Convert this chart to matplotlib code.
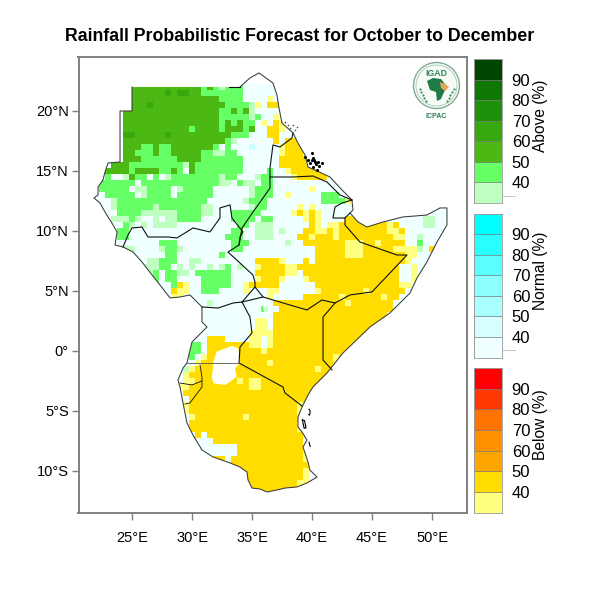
import matplotlib
matplotlib.use('Agg')
import matplotlib.pyplot as plt
import numpy as np
from matplotlib.colors import ListedColormap
from matplotlib.patches import Circle, PathPatch, Polygon
from matplotlib.path import Path

plt.rcParams['font.family'] = ['Liberation Sans', 'DejaVu Sans']

# forecast cells, 0.5 deg, north to south from 22N, west to east from 21.5E
# . normal<40  N normal 50  a/b/c/d above 40/50/60/70  y/z below 40/50
rows = [
    ".......ccc cccccccccb cbabbb....",
    ".......ccc cccdcddccb bbbbbb....",
    ".......ccc cccccccccc ccbbbb.... y.........",
    ".......ccc dccccccccc cccbbbbay. zz........",
    "......cccc cccccccccc ccbbcbca.. ..........",
    "......cccc cccccccccc ccbbbbbab. .y........",
    "......cccc cccccccccc ccbcbcbb.y .zy.......",
    "......cccc cccccccbcc ccbcccbc.. zzy.......",
    "......ddcc cccdcccccc ccccbbb... zz........",
    "......cccc cccccccccc cccba..... .z.zz.....",
    "......cccb bcbbcccccc cb.b...N.. ..yzzz....",
    "......ccbb bcbbcccccb baabb..... ..yzzz....",
    "......cccb bbbbbccccb bbbbbb.... ..zzzzz...",
    "....cccbbb bbbbbbacbb bbbbbb.... ..zzzzzzz.",
    "...ccccbcc ccbbcb.cbb bbbbbb.... b..yzzzzzy",
    "...b..acbb .b.abbbbbb bbabb...ab b...yzzzzz",
    "..bbbbbb.b bbbbbbbbbb bbaa.baa.b b.........",
    "..bbbbb.aa bbbb.abbbb b......abb b......y..",
    "...bbbbb.a bbbb.bbbbb b......abb b..y.....b bb........",
    "....abbbbb bbbbbbbbbb ......abbb .........b bbby......",
    "....abbbbb babbbbbbba a......abb .....y.y.. ..........",
    ".....bbbba aaaaabbbba a...bbbbb. ....yzyzy. ..........",
    "....aaaba. .a.aabbbb. ....bbbb.b b.....yzy. ...zz..... ......aa..",
    "......ba.a .aaaa..... .....bb.aa a......zy. yyzzzzzzzz yz....aa..",
    ".....bb... .......... ....bb..aa a.a...zzyy zyzzzzzzzz yyz.......",
    ".....bb... .......... ...bbb..aa a....zzyzz zyzzzzzzzz zyy..a....",
    ".......... ..bbb..... ....bbb... ...a..zzzz zzzyyyzzyz zzz..b....",
    "......aa.. ..abba.... ....bb.... ........zz zzzyyyzzzz zyyyya.z..",
    ".......... ...bb..... ..b....... ........zz zzzyyyzzzz zzzyy.....",
    ".......... aabbb..aa. ........zz zzy...z.zz zzzzzzzzzz zzzy......",
    ".........a aabb.a.a.. a.ab.a..yz zzzyyzzzzz zzzzzzzzzz zz..y.....",
    ".......... ab.bbaa.bb bbbb....zz zzzyy.zzzz zzzzzzzzzz zz..y.....",
    ".......... .b.bb....b bbbb....yz zzy...yzzz zzzzzzzzzz zz..y.....",
    ".......... ....bzy..b bbbb..yzzz zz......zz zzzzzzzzzz zzyy......",
    ".......... ....zyy..b bb....y... yy......yz zzzzzzyzzz zzz.......",
    ".......... ....yy.... .......... y.....zzzz zzyzzzzzzy zz........",
    ".......... .......... a......... .zzzzzzzzz zzzyzzzzzz z.........",
    ".......... .......... .........b ..zzzzzzzz zzzzzzzzzz z.........",
    ".......... .......... .......... .zzzzzzzzz zzzzzzzzzz ..........",
    ".......... .......... ........yy .zzzzzzzzz zzzzzzzzzz ..........",
    ".......... .......... ........yy .zzzzzzzzz zzzzzzzzzz ..........",
    ".......... .......... .......yyy yzzzzzzzzz zzzzzzzzzz ..........",
    ".......... .......... zzz....yy. yzzzzzzzzz zzzzzzzzzz ..........",
    ".......... .......bb. zzzzzzzyy. yzzzzzzzzz zzzzzzzzzz ..........",
    ".......... .......bb. zzzzzzzzzy zzzzzzzzzz zzzzzzzzzz ..........",
    ".......... .......b.y zzzzzzzzzz zzzzzzzzzz zyzzzzz... ..........",
    ".......... ........yz zzzzzzzzzz yzzzzzzzzz zyzzzz.... ..........",
    ".......... ......ayzz zzzzzzzzzz zzzzzzzzyz zz........ ..........",
    ".......... ......yzzz zzzzzzzzzz zzzzzzzzzz zz........ ..........",
    ".......... ......yyzz zzzzzyzyyz zzzzzzzzzz z......... ..........",
    ".......... .....yyzzz zzzzzzzyyz zzzzzzzzzz .......... ..........",
    ".......... ......zzzz zzzzzzzzzz zzzzzzzzzz .......... ..........",
    ".......... .......zzz zzzzzzzzzz zzzzzzzzzz .......... ..........",
    ".......... ......yzzz zzzzzzzzzz zzzzzyzzzz .......... ..........",
    ".......... ......yzzz zzzzzzzzzz zzzzzyzzzz .......... ..........",
    ".......... .......yzz zzzzzzyzzz zzzzzy.... .......... ..........",
    ".......... .......zzz zzzzzzzzzz zzzzzy.... .......... ..........",
    ".......... .......zzz zzzzzzzzzz zzzzzy.... .......... ..........",
    ".......... ........z. zzzzzzzzzz zzzzzz.... .......... ..........",
    ".......... .......... .zzzzzzzzz zzzzzz.... .......... ..........",
    ".......... .......... .....zzzzz zzzzzz.... .......... ..........",
    ".......... .......... .....zzzzz zzzzzzy... .......... ..........",
    ".......... .......... .zz.zzzzzz zzzzzzy... .......... ..........",
    ".......... .......... zzzzzzzzzz zzzzzzz... .......... ..........",
    ".......... .......... zzzzzzzzzz zzzzzzy... .......... ..........",
    ".......... .......... zzzzzzzzzz zzzzzzy... .......... ..........",
    ".......... .......... zzzzzzzzzz zzzzzyy... .......... ..........",
    ".......... .......... zzzzzzzzzz zzzzzzzz.. .......... ..........",
    ".......... .......... zzzzzzzzzz zzzzzzzz.. .......... ..........",
]
cell_codes = ".Nabcdyz"
cell_colors = ["#F0FFFF", "#CCFFFF", "#BFFFBF", "#66FF66", "#4CB814", "#38A80F", "#FFFF80", "#FFDD00"]

# region outline
outline_lon = [25.0, 25.0, 24.0, 24.0, 23.0, 22.75, 22.58, 22.17, 22.17, 21.83, 22.33, 22.75, 23.42, 23.75,
               23.58, 24.25, 25.08, 25.83, 26.67, 27.33, 28.17, 29.0, 29.83, 30.83, 30.83, 31.25, 30.0, 29.58,
               29.25, 28.83, 29.0, 29.25, 29.58, 30.08, 30.83, 31.75, 33.17, 34.0, 34.58, 34.67, 35.0, 35.67,
               36.25, 37.08, 37.75, 38.75, 39.58, 40.42, 39.83, 39.67, 39.25, 39.58, 39.17, 38.83, 38.83, 39.17,
               39.67, 40.08, 41.25, 42.58, 44.83, 46.5, 48.17, 48.75, 49.58, 50.42, 51.25, 51.25, 50.67, 49.58,
               47.58, 45.92, 44.58, 43.83, 43.17, 43.42, 43.33, 42.5, 41.5, 40.25, 39.67, 39.42, 38.83, 38.42,
               37.5, 37.25, 37.08, 36.75, 35.58, 34.83, 34.0]
outline_lat = [22.0, 20.0, 20.0, 15.75, 15.67, 14.92, 14.25, 13.67, 13.0, 12.75, 12.33, 11.58, 10.5, 9.92,
               8.83, 8.67, 8.25, 7.42, 6.33, 5.5, 4.42, 4.5, 4.67, 3.67, 2.42, 2.0, 0.75, -1.0,
               -1.42, -2.42, -3.0, -4.33, -6.0, -7.0, -8.25, -8.83, -9.33, -9.67, -10.08, -10.75, -11.42, -11.5,
               -11.75, -11.58, -11.42, -11.33, -11.0, -10.5, -9.92, -9.25, -8.0, -7.42, -6.75, -6.33, -5.5, -4.67,
               -3.67, -3.0, -1.83, -0.17, 2.0, 3.17, 4.83, 6.08, 7.42, 9.08, 10.5, 11.92, 11.92, 11.33,
               11.17, 10.75, 10.33, 10.75, 11.5, 11.75, 12.58, 13.42, 14.5, 15.08, 15.33, 16.33, 17.33, 18.17,
               19.0, 20.25, 21.33, 22.33, 23.17, 22.75, 22.0]

# country borders as (lon, lat) lists
borders = [
    ([24.25, 24.67, 25.0, 25.83, 26.33, 28.0, 28.75, 30.08, 31.5, 32.33, 32.33, 33.17, 33.33, 34.25, 34.0, 33.92,
      33.0, 34.0, 35.08, 35.25, 35.25, 34.17],
     [8.67, 9.67, 10.25, 10.33, 9.5, 9.5, 9.42, 10.25, 9.92, 11.08, 11.92, 12.17, 11.08, 9.92, 9.5, 8.83,
      8.25, 7.33, 6.33, 5.75, 5.33, 4.08]),
    ([33.92, 34.17, 35.08, 35.92, 36.5, 36.5, 36.75, 37.33, 38.33, 38.42],
     [8.83, 10.25, 11.58, 12.75, 13.58, 15.25, 17.17, 17.0, 17.75, 18.17]),
    ([36.5, 37.33, 38.42, 40.08, 41.25, 42.33, 43.33],
     [14.5, 14.5, 14.5, 14.58, 14.08, 13.0, 12.58]),
    ([43.33, 42.5, 41.92, 41.75, 42.75, 43.17],
     [12.58, 12.33, 12.0, 11.08, 11.08, 11.5]),
    ([42.75, 42.75, 44.0, 47.08, 47.92, 45.0, 43.17, 41.92, 40.83, 39.58, 38.17, 35.92, 34.17],
     [11.08, 10.5, 9.08, 8.0, 8.0, 4.92, 4.67, 4.0, 4.25, 3.42, 3.83, 4.5, 4.08]),
    ([41.92, 40.92, 40.92, 41.67], [4.0, 2.83, -0.75, -1.58]),
    ([35.25, 35.92], [5.33, 4.5]),
    ([30.83, 32.17, 33.42, 34.17, 34.83, 35.0, 34.0, 33.92, 37.58, 37.75, 39.17],
     [3.67, 3.58, 4.0, 4.08, 2.83, 1.5, 0.33, -1.0, -3.0, -3.5, -4.58]),
    ([34.0, 33.1], [22.0, 22.0]),
]
# thin gray lines around Rwanda, Burundi and the Uganda-Tanzania line
minor_borders = [
    ([29.58, 33.92], [-1.0, -1.0]),
]
small_borders = [
    ([30.67, 30.83, 30.83, 29.83, 29.42], [-1.17, -2.17, -3.0, -4.33, -4.42]),
    ([29.0, 30.0, 30.83], [-2.67, -2.83, -2.5]),
]

lake_lon = [31.72, 31.78, 32.06, 32.75, 33.31, 33.86, 34.0, 33.58, 33.72, 33.17, 32.75, 31.78, 31.64]
lake_lat = [-1.72, -0.89, -0.06, 0.22, 0.42, 0.22, -0.97, -1.44, -2.14, -2.56, -2.83, -2.69, -2.14]
turkana_lon = [36.0, 36.25, 36.4, 36.15, 35.95]
turkana_lat = [4.5, 3.9, 2.55, 2.7, 3.6]

dahlak_lon = [39.42, 39.69, 39.97, 40.11, 40.25, 40.53, 40.81, 39.83, 40.11, 40.39, 40.0, 40.3, 40.6, 40.2]
dahlak_lat = [16.19, 15.92, 16.47, 16.06, 15.78, 15.78, 15.64, 15.64, 15.36, 15.08, 15.9, 15.55, 15.4, 15.95]
suakin_lon = [37.75, 38.03, 38.44, 38.72, 38.17, 38.58]
suakin_lat = [19.11, 18.83, 18.83, 18.69, 18.56, 18.42]
islands = [
    ([39.75, 39.85, 39.8, 39.72], [-4.85, -5.0, -5.35, -5.3]),
    ([39.2, 39.38, 39.5, 39.35, 39.2], [-5.75, -5.8, -6.4, -6.45, -5.75]),
    ([39.75, 39.85], [-7.6, -7.95]),
]

lon_ticks = [25, 30, 35, 40, 45, 50]
lat_ticks = [-10, -5, 0, 5, 10, 15, 20]

legend_labels = [40, 50, 60, 70, 80, 90]
above_colors = ["#BFFFBF", "#66FF66", "#4CB814", "#38A80F", "#1E910A", "#0F7805", "#004600"]
normal_colors = ["#F0FFFF", "#D7FFFF", "#AAFFFF", "#8CFFFF", "#5AFFFF", "#28FFFF", "#00FFFF"]
below_colors = ["#FFFF80", "#FFDD00", "#FFA500", "#FF9100", "#FF7300", "#FF3700", "#FF0000"]
legend_titles = ["Above (%)", "Normal (%)", "Below (%)"]


def px_axes(fig, left, top, right, bottom):
    return fig.add_axes([left / 600, 1 - bottom / 600, (right - left) / 600, (bottom - top) / 600])


def lat_label(v):
    if v == 0:
        return "0°"
    return f"{abs(v)}°{'N' if v > 0 else 'S'}"


fig = plt.figure(figsize=(6, 6), dpi=100)
fig.text(300 / 600, 1 - 36.5 / 600, "Rainfall Probabilistic Forecast for October to December",
         ha='center', va='center', fontsize=12.8, fontweight='bold')

ax = px_axes(fig, 78.5, 56.5, 467, 513)
ax.set_xlim(20.54, 52.92)
ax.set_ylim(-13.5, 24.54)
ax.set_xticks(lon_ticks)
ax.set_xticklabels([f"{v}°E" for v in lon_ticks])
ax.set_yticks(lat_ticks)
ax.set_yticklabels([lat_label(v) for v in lat_ticks])
ax.tick_params(length=5, width=1, color='#808080', labelsize=10.5)
ax.tick_params(axis='x', pad=8)
ax.tick_params(axis='y', pad=2)
for side in ax.spines.values():
    side.set_color('#808080')
    side.set_linewidth(1.4)

# decode the cells and clip them to the region
grid = np.array([[cell_codes.index(c) for c in r.replace(" ", "").ljust(61, ".")] for r in rows])
lon_edges = 21.25 + 0.5 * np.arange(grid.shape[1] + 1)
lat_edges = 22.25 - 0.5 * np.arange(grid.shape[0] + 1)
mesh = ax.pcolormesh(lon_edges, lat_edges, grid, cmap=ListedColormap(cell_colors),
                     vmin=-0.5, vmax=len(cell_codes) - 0.5, zorder=1)
clip = PathPatch(Path(np.column_stack([outline_lon, outline_lat])), transform=ax.transData, fc='none', ec='none')
ax.add_patch(clip)
mesh.set_clip_path(clip)

ax.add_patch(Polygon(np.column_stack([lake_lon, lake_lat]), fc='white', ec='none', zorder=2))
ax.add_patch(Polygon(np.column_stack([turkana_lon, turkana_lat]), fc='white', ec='none', alpha=0.7, zorder=2))

ax.plot(outline_lon, outline_lat, color='#3a3a3a', lw=0.75, zorder=3)
for b_lon, b_lat in borders:
    ax.plot(b_lon, b_lat, color='#111111', lw=0.8, zorder=3)
for b_lon, b_lat in minor_borders:
    ax.plot(b_lon, b_lat, color='#555555', lw=0.6, zorder=3)
for b_lon, b_lat in small_borders:
    ax.plot(b_lon, b_lat, color='#111111', lw=0.6, zorder=3)
for b_lon, b_lat in islands:
    ax.plot(b_lon, b_lat, color='black', lw=0.8, zorder=3)
ax.scatter(dahlak_lon, dahlak_lat, s=5, color='black', lw=0, zorder=3)
ax.scatter(suakin_lon, suakin_lat, s=1.5, color='#555555', lw=0, zorder=3)

# three stacked colour keys
key_boxes = [(59, 203), (213.5, 357.5), (368, 512.5)]
key_colors = [above_colors, normal_colors, below_colors]
for (top, bottom), colors, title in zip(key_boxes, key_colors, legend_titles):
    cax = px_axes(fig, 474, top, 502, bottom)
    cax.bar(np.zeros(len(colors)), np.ones(len(colors)), bottom=np.arange(len(colors)), width=1,
            color=colors, edgecolor='#777777', linewidth=0.4)
    cax.set_xlim(-0.5, 0.5)
    cax.set_ylim(0, len(colors))
    cax.set_xticks([])
    cax.yaxis.tick_right()
    cax.set_yticks(np.arange(1, len(colors)))
    cax.set_yticklabels(legend_labels)
    cax.tick_params(length=0, labelsize=12, pad=7)
    for side in cax.spines.values():
        side.set_color('#999999')
        side.set_linewidth(0.6)
    fig.text(540 / 600, 1 - (top + 57) / 600, title, rotation=90, ha='center', va='center', fontsize=11.2)

# pixel overlay for the logo and the small key marks
over = fig.add_axes([0, 0, 1, 1], facecolor='none')
over.set_xlim(0, 600)
over.set_ylim(600, 0)
over.axis('off')
over.plot([502, 515], [196, 196], color='#bbbbbb', lw=0.6)
over.plot([502, 515], [350, 350], color='#bbbbbb', lw=0.6)

logo_x, logo_y = 436.5, 85.5
over.add_patch(Circle((logo_x, logo_y), 23, fc='#f7fbf7', ec='#7fae95', lw=1.0))
over.add_patch(Circle((logo_x, logo_y), 20.5, fc='none', ec='#a5c8b2', lw=0.6))
over.add_patch(Polygon([(427, 81), (433, 78), (441, 79), (445, 84), (448, 87), (444, 92), (441, 99), (437, 101),
                        (436, 92), (430, 90)], fc='#1f7a45', ec='none'))
over.add_patch(Polygon([(440, 82), (445, 84), (449, 87), (445, 91), (441, 88)], fc='#e3a65a', ec='none'))
for side_sign in (-1, 1):
    for k in range(5):
        over.plot(logo_x + side_sign * (17 - k * 1.6), logo_y + 3 + k * 3, marker='o', ms=1.6, color='#3f8f5c', mew=0)
over.text(logo_x, 73.5, "IGAD", ha='center', va='center', fontsize=6.3, fontweight='bold', color='#2d8a57')
over.text(logo_x, 116, "ICPAC", ha='center', va='center', fontsize=5, fontweight='bold', color='#2d7a50')

fig.savefig('out.png', dpi=100)
